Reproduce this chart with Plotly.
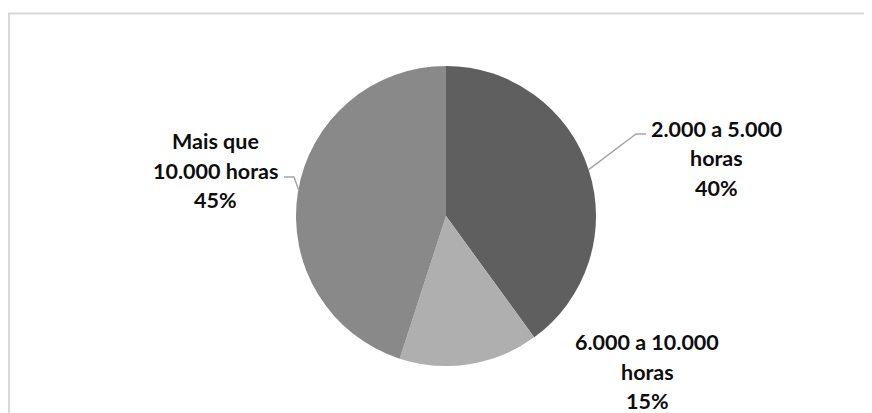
import math
import plotly.graph_objects as go

# ---- data ----
categories = ["2.000 a 5.000 horas", "6.000 a 10.000 horas", "Mais que 10.000 horas"]
values = [40, 15, 45]
label_lines = [
    ["2.000 a 5.000", "horas", "40%"],
    ["6.000 a 10.000", "horas", "15%"],
    ["Mais que", "10.000 horas", "45%"],
]
colors = ["#5f5f5f", "#afafaf", "#898989"]

OFF = 8  # page body margin: figure is drawn 8px from the window's corner
W, H = 872 - OFF, 413 - OFF  # figure fills the rest of the window
CX, CY, R = 446, 216, 150  # pie centre / radius in screen pixels


def px(x):
    return (x - OFF) / W


def py(y):
    return 1 - (y - OFF) / H


fig = go.Figure()
fig.add_trace(go.Pie(
    labels=categories,
    values=values,
    sort=False,
    direction="clockwise",
    rotation=0,
    marker=dict(colors=colors, line=dict(width=0)),
    textinfo="none",
    hoverinfo="skip",
    showlegend=False,
    domain=dict(x=[px(CX - R), px(CX + R)], y=[py(CY + R), py(CY - R)]),
))

# mid-angle of each slice (clockwise from 12 o'clock), from the data
total = sum(values)
mids = []
acc = 0
for v in values:
    mids.append((acc + v / 2) / total * 2 * math.pi)
    acc += v


def edge(i):
    a = mids[i]
    return CX + R * math.sin(a), CY - R * math.cos(a)


# label block placement (centre x, first line centre y)
label_pos = [(716, 129), (647, 342), (215, 141)]
line_gap = 29.5

annotations = []
for (lx, ly), lines in zip(label_pos, label_lines):
    for k, t in enumerate(lines):
        annotations.append(dict(
            x=px(lx), y=py(ly + k * line_gap), xref="paper", yref="paper",
            text=t, showarrow=False, xanchor="center", yanchor="middle",
            font=dict(family="Lato", size=21.5, color="#0d0d0d", weight="bold"),
        ))

shapes = []
# frame (only top and left visible)
shapes.append(dict(type="rect", xref="paper", yref="paper",
                   x0=px(9), x1=px(W + 60), y0=py(H + 60), y1=py(13.5),
                   line=dict(color="#d9d9d9", width=2), fillcolor="rgba(0,0,0,0)", layer="below"))

# leader lines
ex, ey = edge(0)
shapes.append(dict(type="path", xref="paper", yref="paper",
                   path=f"M {px(ex)},{py(ey)} L {px(636)},{py(134)} L {px(646)},{py(134)}",
                   line=dict(color="#a6a6a6", width=1.5)))
ex, ey = edge(2)
shapes.append(dict(type="path", xref="paper", yref="paper",
                   path=f"M {px(ex + 1)},{py(ey - 2)} L {px(294)},{py(177)} L {px(284)},{py(177)}",
                   line=dict(color="#a6a6a6", width=1.5)))

fig.update_layout(
    width=W, height=H,
    margin=dict(l=0, r=0, t=0, b=0),
    paper_bgcolor="white",
    plot_bgcolor="white",
    annotations=annotations,
    shapes=shapes,
)

fig.write_html("out.html")
